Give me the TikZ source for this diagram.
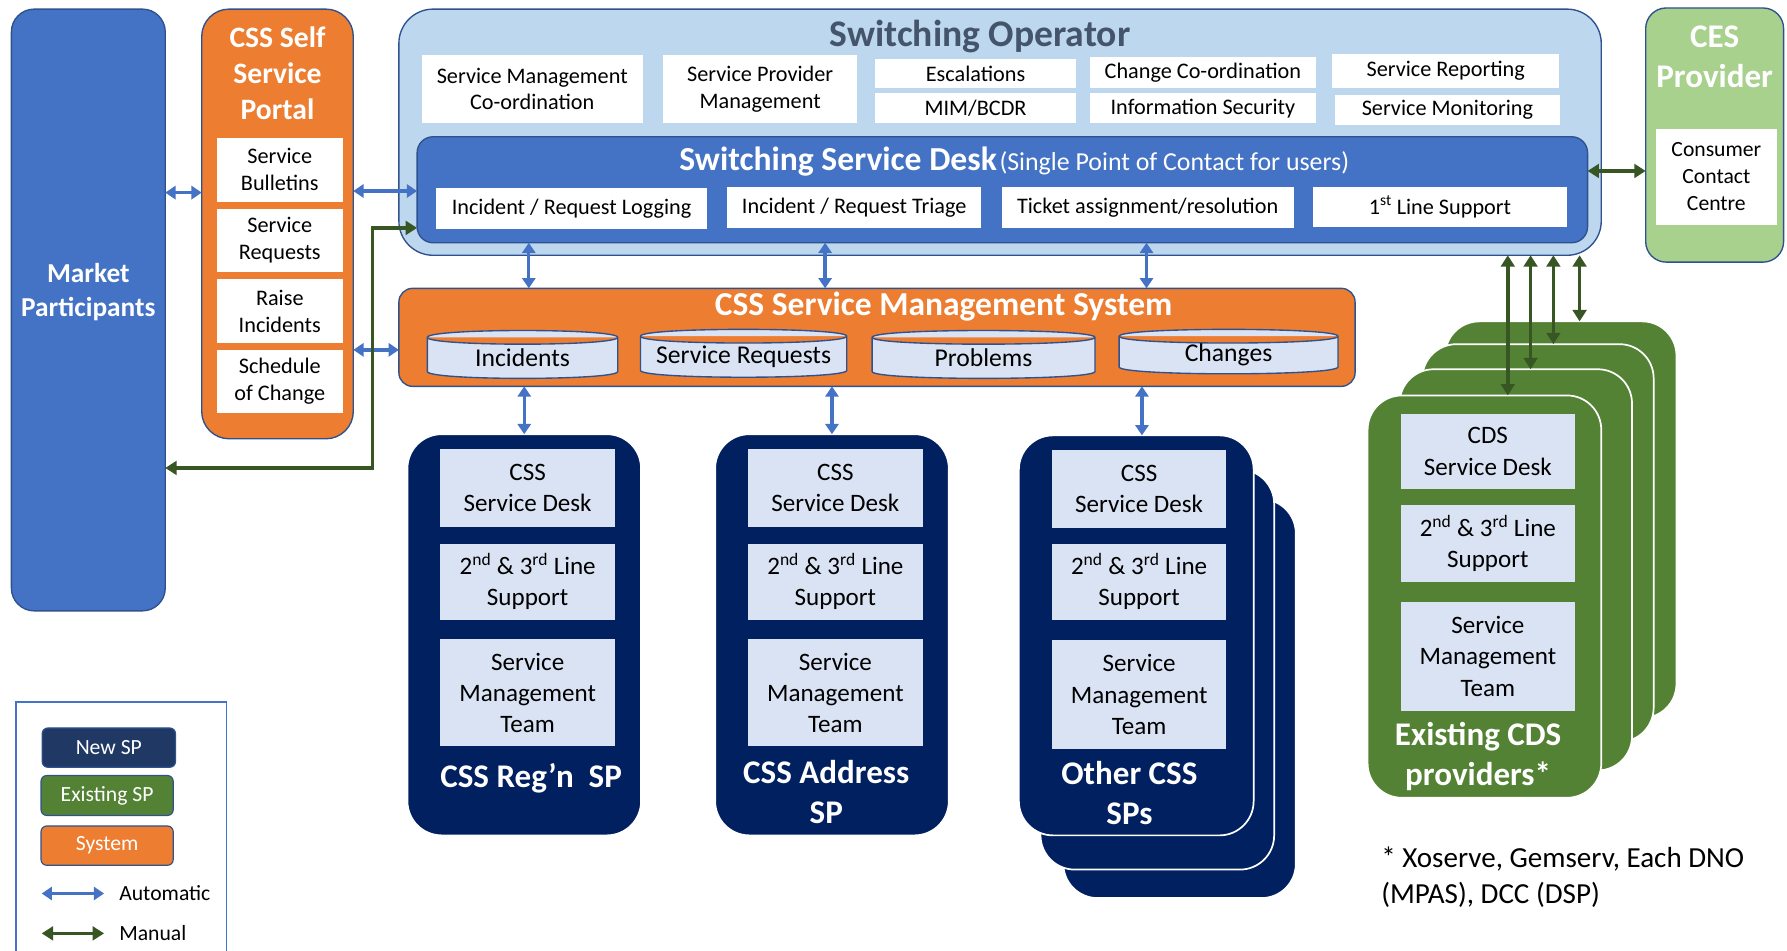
\documentclass[tikz,border=0pt]{standalone}
\usepackage{fontspec}
\setmainfont{Carlito}
\usetikzlibrary{arrows.meta,calc}

\definecolor{mpblue}{HTML}{4472C4}
\definecolor{edgeblue}{HTML}{2F528F}
\definecolor{sysorange}{HTML}{ED7D31}
\definecolor{oplight}{HTML}{BDD7EE}
\definecolor{titlegrey}{HTML}{44546A}
\definecolor{cesgreen}{HTML}{A9D18E}
\definecolor{spgreen}{HTML}{548235}
\definecolor{navy}{HTML}{002060}
\definecolor{legendnavy}{HTML}{203864}
\definecolor{paleblue}{HTML}{DAE3F3}
\definecolor{manualgreen}{HTML}{375623}

\newcommand\setfs[2]{\fontsize{#1pt}{#2pt}\selectfont}

% database drum drawn over the bounds of a named node
\newcommand\drawdrum[1]{%
  \path[drumstyle] let \p1=(#1.north west), \p2=(#1.south east) in
    (\x1,\y1-6pt) -- (\x1,\y2+6pt)
    .. controls (\x1,\y2-2pt) and (\x2,\y2-2pt) .. (\x2,\y2+6pt)
    -- (\x2,\y1-6pt)
    .. controls (\x2,\y1+2pt) and (\x1,\y1+2pt) .. (\x1,\y1-6pt) -- cycle
    (\x2,\y1-6pt) .. controls (\x2,\y1-14pt) and (\x1,\y1-14pt) .. (\x1,\y1-6pt);
}

\begin{document}
\begin{tikzpicture}[x=1pt,y=-1pt,
  every node/.style={inner sep=0pt, outer sep=0pt, align=center},
  wh/.style 2 args={minimum width=#1pt, minimum height=#2pt},
  container/.style={rectangle, draw=edgeblue, line width=1.2pt},
  whitebox/.style={rectangle, fill=white, font=\setfs{19.5}{23.5}},
  palebox/.style={rectangle, fill=paleblue, font=\setfs{22}{27.5}, wh={153}{#1}},
  bigtitle/.style={text=white, font=\setfs{29}{35}\bfseries},
  drumstyle/.style={draw=edgeblue, fill=paleblue, line width=1.2pt},
  drumtext/.style={font=\setfs{22.5}{27}},
  navycard/.style={rectangle, rounded corners=30pt, fill=navy, draw=white, line width=1.5pt, wh={205}{352}},
  greencard/.style={rectangle, rounded corners=30pt, fill=spgreen, draw=white, line width=1.5pt, wh={204}{352}},
  autoarrow/.style={>={Triangle[length=9pt,width=11.5pt]}, <->, draw=mpblue, line width=2.9pt},
  manualarrow/.style={>={Triangle[length=10pt,width=12pt]}, <->, draw=manualgreen, line width=3.1pt},
  legendbox/.style={rectangle, rounded corners=5pt, draw=edgeblue, line width=1pt, text=white, font=\setfs{19}{23}},
]
\useasboundingbox (0,0) rectangle (1568,834);

% ---------- Market participants ----------
\node[container, rounded corners=20pt, fill=mpblue, wh={135}{528}] (mp) at (77.5,272) {};
\node[bigtitle, font=\setfs{24}{30}\bfseries] (mptitle) at (77.5,256) {Market\\Participants};

% ---------- Self service portal ----------
\node[container, rounded corners=24pt, fill=sysorange, wh={133}{377}] (portal) at (243.5,196.5) {};
\node[bigtitle, font=\setfs{26}{31.6}\bfseries] (portaltitle) at (243.5,64) {CSS Self\\Service\\Portal};
\node[whitebox, wh={111}{56}] (bull) at (245.5,149) {Service\\Bulletins};
\node[whitebox, wh={111}{56}] (sreqp) at (245.5,211) {Service\\Requests};
\node[whitebox, wh={111}{56}] (raise) at (245.5,273) {Raise\\Incidents};
\node[whitebox, wh={111}{55}] (sched) at (245.5,334.5) {Schedule\\of Change};

% ---------- Switching operator ----------
\node[container, rounded corners=30pt, fill=oplight, wh={1055}{216}] (so) at (877.5,116) {};
\node[text=titlegrey, font=\setfs{33}{40}\bfseries] (sotitle) at (860,32) {Switching Operator};
\node[whitebox, wh={194}{60}] (smc) at (467,78) {Service Management\\Co-ordination};
\node[whitebox, wh={170}{60}] (spm) at (667,78) {Service Provider\\Management};
\node[whitebox, wh={176}{25}] (esc) at (856,64.5) {Escalations};
\node[whitebox, wh={176}{26}] (mim) at (856,95) {MIM/BCDR};
\node[whitebox, wh={199}{27}] (chg) at (1055.5,63.5) {Change Co-ordination};
\node[whitebox, wh={199}{26}] (inf) at (1055.5,95) {Information Security};
\node[whitebox, wh={199}{30}] (rep) at (1268.5,62) {Service Reporting};
\node[whitebox, wh={198}{27}] (mon) at (1270,96.5) {Service Monitoring};

% ---------- Switching service desk ----------
\node[container, rounded corners=14pt, fill=mpblue, wh={1027}{93}] (ssd) at (879.5,166.5) {};
\node[text=white] (ssdtitle) at (890,142) {{\setfs{29.5}{35}\bfseries Switching Service Desk} {\setfs{22.7}{27}(Single Point of Contact for users)}};
\node[whitebox, wh={237}{36}] (log) at (501.5,183) {Incident / Request Logging};
\node[whitebox, wh={223}{36}] (tri) at (749.5,182) {Incident / Request Triage};
\node[whitebox, wh={256}{36}] (tkt) at (1007,182) {Ticket assignment/resolution};
\node[whitebox, wh={223}{35}] (fls) at (1263.5,181.5) {1\textsuperscript{st} Line Support};

% ---------- CES provider ----------
\node[container, rounded corners=18pt, fill=cesgreen, wh={121}{223}] (ces) at (1504.5,118.5) {};
\node[bigtitle] (cestitle) at (1504.5,49.5) {CES\\Provider};
\node[whitebox, font=\setfs{19}{23.4}, wh={106}{84}] (ccc) at (1506,155) {Consumer\\Contact\\Centre};

% ---------- Service management system ----------
\node[container, rounded corners=12pt, fill=sysorange, wh={839}{86}] (sms) at (769.5,296) {};
\node[bigtitle, font=\setfs{29.4}{35}\bfseries] (smstitle) at (828,269) {CSS Service Management System};
\node[wh={167}{42}] (incid) at (458.5,311) {};
\node[wh={181}{42}] (sreq) at (652.5,310) {};
\node[wh={195.5}{42}] (prob) at (863,311) {};
\node[wh={192}{39}] (chgs) at (1078,308.5) {};
\drawdrum{incid}
\drawdrum{sreq}
\drawdrum{prob}
\drawdrum{chgs}
\node[drumtext] (incidtext) at ([yshift=-3pt]incid.center) {Incidents};
\node[drumtext] (sreqtext) at ([yshift=-3pt]sreq.center) {Service Requests};
\node[drumtext] (probtext) at ([yshift=-3pt]prob.center) {Problems};
\node[drumtext] (chgstext) at ([yshift=-3pt]chgs.center) {Changes};

% ---------- CSS service providers ----------
\node[navycard] (regn) at (460,557) {};
\node[palebox=68] (regnsd) at (463,428) {CSS\\Service Desk};
\node[palebox=67] (regnln) at (463,510.5) {2\textsuperscript{nd} \& 3\textsuperscript{rd} Line\\Support};
\node[palebox=94] (regnsm) at (463,608) {Service\\Management\\Team};
\node[bigtitle] (regntitle) at (466,683) {CSS Reg’n\ \ SP};

\node[navycard] (addr) at (730,557) {};
\node[palebox=68] (addrsd) at (733,428) {CSS\\Service Desk};
\node[palebox=67] (addrln) at (733,510.5) {2\textsuperscript{nd} \& 3\textsuperscript{rd} Line\\Support};
\node[palebox=94] (addrsm) at (733,608) {Service\\Management\\Team};
\node[bigtitle] (addrtitle) at (725,695) {CSS Address\\SP};

\node[navycard, wh={204}{350}] (othr3) at (1035,613) {};
\node[navycard, wh={205}{351}] (othr2) at (1015.5,587.5) {};
\node[navycard, wh={206}{351}] (othr1) at (997,557.5) {};
\node[palebox=68] (othrsd) at (999.5,429) {CSS\\Service Desk};
\node[palebox=67] (othrln) at (999.5,510.5) {2\textsuperscript{nd} \& 3\textsuperscript{rd} Line\\Support};
\node[palebox=95] (othrsm) at (999.5,609.5) {Service\\Management\\Team};
\node[bigtitle] (othrtitle) at (991,696) {Other CSS\\SPs};

% ---------- Existing CDS providers ----------
\node[greencard, wh={203}{348}] (cds4) at (1369.5,456) {};
\node[greencard, wh={203}{349}] (cds3) at (1349.5,476.5) {};
\node[greencard] (cds2) at (1330,500) {};
\node[greencard, wh={205}{353}] (cds1) at (1302.5,523.5) {};
\node[palebox=66] (cdssd) at (1305.5,396) {CDS\\Service Desk};
\node[palebox=68] (cdsln) at (1305.5,477) {2\textsuperscript{nd} \& 3\textsuperscript{rd} Line\\Support};
\node[palebox=96] (cdssm) at (1305.5,576) {Service\\Management\\Team};
\node[bigtitle] (cdstitle) at (1297,664) {Existing CDS\\providers*};

\node[anchor=west, align=left, font=\setfs{25.5}{31.5}] (note) at (1212,770) {* Xoserve, Gemserv, Each DNO\\(MPAS), DCC (DSP)};

% ---------- connectors ----------
\coordinate (rowA) at (0,169);
\coordinate (rowB) at (0,167.6);
\coordinate (rowC) at (0,307);
\coordinate (rowD) at (0,200);
\coordinate (rowE) at (0,410.6);
\coordinate (rowF) at (0,150);
\coordinate (bend) at (327,0);
\coordinate (colA) at (464,0);
\coordinate (colB) at (724,0);
\coordinate (colC) at (1006,0);
\coordinate (colD) at (460,0);
\coordinate (colE) at (730,0);
\coordinate (colF) at (1002,0);
\coordinate (colG) at (1323,0);
\coordinate (colH) at (1343,0);
\coordinate (colI) at (1363,0);
\coordinate (colJ) at (1386,0);

\draw[autoarrow] (mp.east |- rowA) -- (portal.west |- rowA);
\draw[autoarrow] (portal.east |- rowB) -- (ssd.west |- rowB);
\draw[autoarrow] (portal.east |- rowC) -- (sms.west |- rowC);
\draw[manualarrow] (ssd.west |- rowD) -- (bend |- rowD) -- (bend |- rowE) -- (mp.east |- rowE);
\draw[manualarrow] (ssd.east |- rowF) -- (ces.west |- rowF);

\draw[autoarrow] (ssd.south -| colA) -- (sms.north -| colA);
\draw[autoarrow] (ssd.south -| colB) -- (sms.north -| colB);
\draw[autoarrow] (ssd.south -| colC) -- (sms.north -| colC);
\draw[autoarrow] (sms.south -| colD) -- (regn.north -| colD);
\draw[autoarrow] (sms.south -| colE) -- (addr.north -| colE);
\draw[autoarrow] (sms.south -| colF) -- (othr1.north -| colF);

\draw[manualarrow] (so.south -| colG) -- (cds1.north -| colG);
\draw[manualarrow] (so.south -| colH) -- (cds2.north -| colH);
\draw[manualarrow] (so.south -| colI) -- (cds3.north -| colI);
\draw[manualarrow] (so.south -| colJ) -- (cds4.north -| colJ);

% ---------- key ----------
\node[draw=mpblue, line width=1pt, anchor=north west, wh={185}{240}] (key) at (14,616) {};
\node[legendbox, fill=legendnavy, wh={117}{34.5}] (keynew) at (95.5,656) {New SP};
\node[legendbox, fill=spgreen, wh={116}{35}] (keyexist) at (94,698) {Existing SP};
\node[legendbox, fill=sysorange, wh={116}{34.5}] (keysys) at (94,742) {System};
\coordinate (autoL) at (36.6,784);
\coordinate (autoR) at (91.3,784);
\coordinate (manL) at (36.6,819);
\coordinate (manR) at (91.3,819);
\draw[autoarrow] (autoL) -- (autoR);
\draw[manualarrow] (manL) -- (manR);
\node[anchor=west, font=\setfs{19}{23}] (autolabel) at (104.7,784) {Automatic};
\node[anchor=west, font=\setfs{19}{23}] (manlabel) at (104.7,819) {Manual};
\end{tikzpicture}
\end{document}
